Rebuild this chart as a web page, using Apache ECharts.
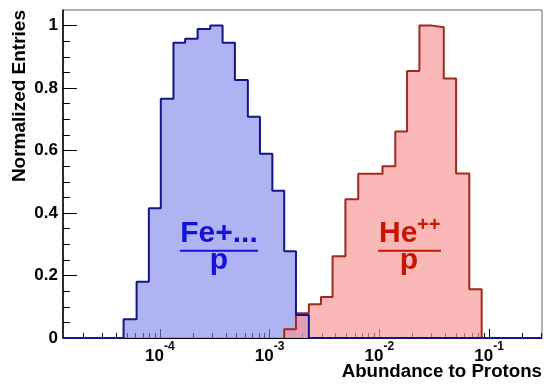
<!DOCTYPE html>
<html><head><meta charset="utf-8">
<script src="https://cdn.jsdelivr.net/npm/echarts@6/dist/echarts.min.js"></script>
<style>html,body{margin:0;padding:0;background:#fff}#c{width:550px;height:384px}</style>
</head><body><div id="c"></div>
<script>
// ---- data ----
const binEdges = [4.67e-5, 6.14e-5, 7.94e-5, 1.02e-4, 1.33e-4, 1.70e-4, 2.21e-4, 2.88e-4,
  3.73e-4, 4.83e-4, 6.34e-4, 8.17e-4, 1.06e-3, 1.36e-3, 1.74e-3, 2.28e-3, 2.94e-3, 3.75e-3,
  4.91e-3, 6.43e-3, 8.34e-3, 1.07e-2, 1.40e-2, 1.79e-2, 2.32e-2, 3.03e-2, 3.87e-2, 5.01e-2,
  6.61e-2, 8.57e-2];
const feFirstBin = 0;
const feValues = [0.06, 0.18, 0.415, 0.766, 0.945, 0.958, 0.989, 1.0, 0.945, 0.826, 0.708, 0.59, 0.471, 0.278, 0.074];
const heFirstBin = 13;
const heValues = [0.028, 0.079, 0.108, 0.131, 0.262, 0.444, 0.526, 0.526, 0.55, 0.661, 0.855, 1.0, 0.995, 0.831, 0.527, 0.156];
const xRange = [1.31e-5, 0.304];
const yRange = [0, 1.05];
const xMajorTicks = [1e-4, 1e-3, 1e-2, 1e-1];
const xTickExponents = ['-4', '-3', '-2', '-1'];
const xMinorTicks = [2e-5,3e-5,4e-5,5e-5,6e-5,7e-5,8e-5,9e-5,
  2e-4,3e-4,4e-4,5e-4,6e-4,7e-4,8e-4,9e-4,
  2e-3,3e-3,4e-3,5e-3,6e-3,7e-3,8e-3,9e-3,
  2e-2,3e-2,4e-2,5e-2,6e-2,7e-2,8e-2,9e-2,
  2e-1,3e-1];
const yMajorTicks = [0, 0.2, 0.4, 0.6, 0.8, 1];
const yTickLabels = ['0', '0.2', '0.4', '0.6', '0.8', '1'];
const yMinorTicks = [0.05,0.1,0.15,0.25,0.3,0.35,0.45,0.5,0.55,0.65,0.7,0.75,0.85,0.9,0.95];
const xTitle = 'Abundance to Protons';
const yTitle = 'Normalized Entries';

// ---- build step outlines ----
function stepData(first, vals, tails) {
  const d = [];
  if (tails) d.push([xRange[0], 0]);
  d.push([binEdges[first], 0]);
  for (let i = 0; i < vals.length; i++) d.push([binEdges[first + i + 1], vals[i]]);
  d.push([binEdges[first + vals.length], 0]);
  if (tails) d.push([xRange[1], 0]);
  return d;
}
const FONT = '"Liberation Sans", Arial, Helvetica, sans-serif';
const feData = stepData(feFirstBin, feValues, true);
const heData = stepData(heFirstBin, heValues, false);

const chart = echarts.init(document.getElementById('c'), null, {renderer: 'canvas'});
const gridRect = {left: 63, right: 8, top: 10, bottom: 46, containLabel: false, outerBoundsMode: 'none'};
chart.setOption({
  animation: false,
  grid: [Object.assign({show: true, borderColor: '#666', borderWidth: 1, backgroundColor: 'transparent'}, gridRect),
         Object.assign({show: false}, gridRect)],
  xAxis: [{
    type: 'log', logBase: 10, min: xRange[0], max: xRange[1], gridIndex: 0, position: 'bottom',
    axisLine: {show: true, onZero: false, lineStyle: {color: '#000', width: 1}},
    axisTick: {show: true, inside: true, length: 9, customValues: xMajorTicks, lineStyle: {color: '#000', width: 1}},
    minorTick: {show: false},
    splitLine: {show: false},
    axisLabel: {
      customValues: xMajorTicks, margin: 3,
      formatter: function (v) {
        const i = xMajorTicks.findIndex(t => Math.abs(Math.log10(t) - Math.log10(v)) < 1e-6);
        return '{b|10}{s|' + xTickExponents[i] + '}';
      },
      rich: {
        b: {fontSize: 17, fontWeight: 'bold', fontFamily: FONT, color: '#000', lineHeight: 24, verticalAlign: 'bottom'},
        s: {fontSize: 12, fontWeight: 'bold', fontFamily: FONT, color: '#000', lineHeight: 12, verticalAlign: 'top'}
      }
    }
  }, {
    type: 'log', logBase: 10, min: xRange[0], max: xRange[1], gridIndex: 1, position: 'bottom',
    axisLine: {show: false},
    axisTick: {show: true, inside: true, length: 5, customValues: xMinorTicks, lineStyle: {color: '#000', width: 1}},
    axisLabel: {show: false}, splitLine: {show: false}
  }],
  yAxis: [{
    type: 'value', min: yRange[0], max: yRange[1], gridIndex: 0,
    axisLine: {show: true, onZero: false, lineStyle: {color: '#000', width: 1.5}},
    axisTick: {show: true, inside: true, length: 14, customValues: yMajorTicks, lineStyle: {color: '#000', width: 1}},
    splitLine: {show: false},
    axisLabel: {
      customValues: yMajorTicks, margin: 5, fontSize: 17, fontWeight: 'bold', fontFamily: FONT, color: '#000',
      formatter: function (v) {
        const i = yMajorTicks.findIndex(t => Math.abs(t - v) < 1e-9);
        return yTickLabels[i];
      }
    }
  }, {
    type: 'value', min: yRange[0], max: yRange[1], gridIndex: 1,
    axisLine: {show: false},
    axisTick: {show: true, inside: true, length: 7, customValues: yMinorTicks, lineStyle: {color: '#000', width: 1}},
    axisLabel: {show: false}, splitLine: {show: false}
  }],
  series: [
    {name: 'Fe+.../p fill', type: 'line', step: 'start', data: feData, showSymbol: false, z: 2,
     lineStyle: {width: 0}, areaStyle: {color: 'rgb(128,132,234)', opacity: 0.62}, silent: true},
    {name: 'He++/p fill', type: 'line', step: 'start', data: heData, showSymbol: false, z: 3,
     lineStyle: {width: 0}, areaStyle: {color: 'rgb(247,150,150)', opacity: 0.68}, silent: true},
    {name: 'He++/p', type: 'line', step: 'start', data: heData, showSymbol: false, z: 4,
     lineStyle: {width: 2, color: '#a02a1a'}},
    {name: 'Fe+.../p', type: 'line', step: 'start', data: feData, showSymbol: false, z: 5,
     lineStyle: {width: 2, color: '#14148a'}}
  ],
  graphic: [
    {type: 'text', x: 19.5, y: 10, rotation: Math.PI / 2, z: 10,
     style: {text: yTitle, font: 'bold 19px ' + FONT, fill: '#000', align: 'right', verticalAlign: 'middle'}},
    {type: 'text', x: 542, y: 372, z: 10,
     style: {text: xTitle, font: 'bold 18.7px ' + FONT, fill: '#000', align: 'right', verticalAlign: 'middle'}},
    {type: 'text', x: 219, y: 234, z: 10,
     style: {text: 'Fe+...', font: 'bold 30px ' + FONT, fill: '#1212dc', align: 'center', verticalAlign: 'middle'}},
    {type: 'line', z: 10, shape: {x1: 180, y1: 250.7, x2: 258, y2: 250.7}, style: {stroke: '#1212dc', lineWidth: 2}},
    {type: 'text', x: 219, y: 261, z: 10,
     style: {text: 'p', font: 'bold 30px ' + FONT, fill: '#1212dc', align: 'center', verticalAlign: 'middle'}},
    {type: 'text', x: 379, y: 234, z: 10,
     style: {text: 'He', font: 'bold 30px ' + FONT, fill: '#c81400', align: 'left', verticalAlign: 'middle'}},
    {type: 'text', x: 417, y: 225.5, z: 10,
     style: {text: '++', font: 'bold 20px ' + FONT, fill: '#c81400', align: 'left', verticalAlign: 'middle'}},
    {type: 'line', z: 10, shape: {x1: 378, y1: 250.7, x2: 441, y2: 250.7}, style: {stroke: '#c81400', lineWidth: 2}},
    {type: 'text', x: 409, y: 261, z: 10,
     style: {text: 'p', font: 'bold 30px ' + FONT, fill: '#c81400', align: 'center', verticalAlign: 'middle'}}
  ]
});
</script>
</body></html>
